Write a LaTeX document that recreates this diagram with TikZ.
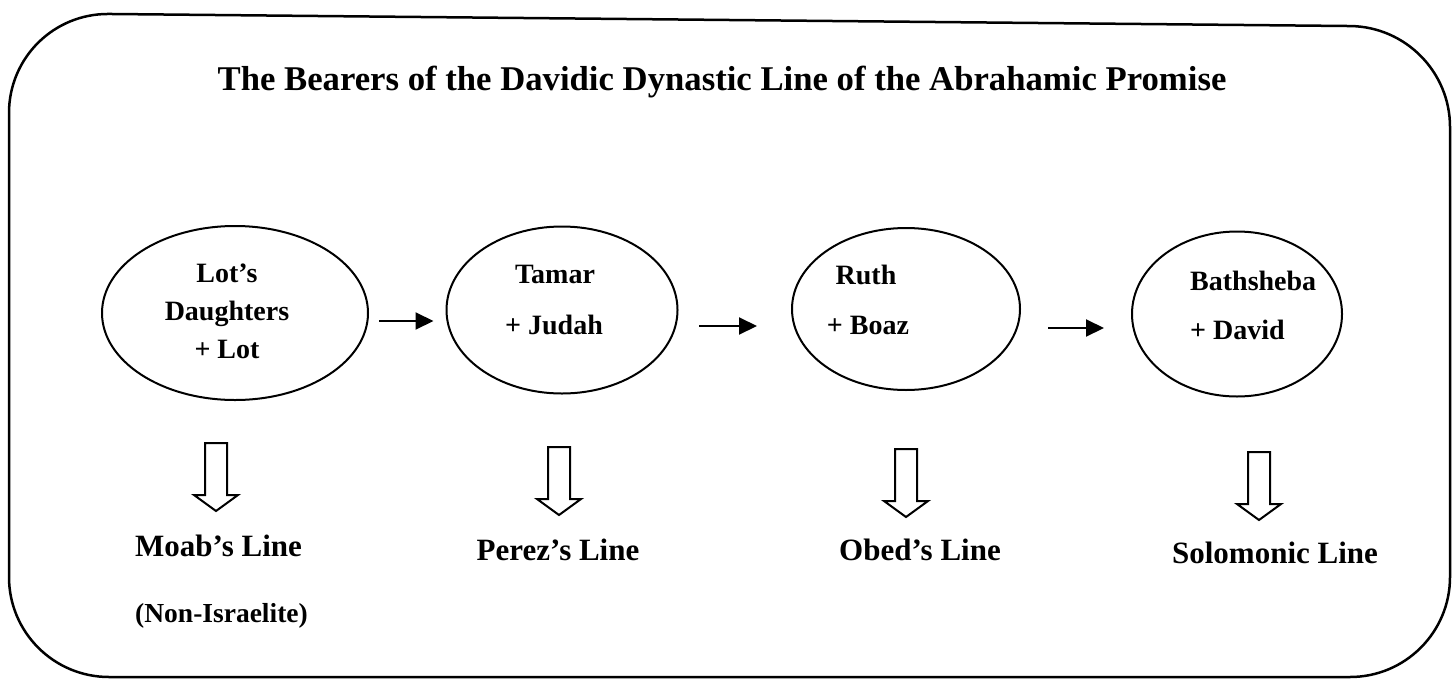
\documentclass[tikz,border=0pt]{standalone}
\usepackage{fontspec}
\setmainfont{Liberation Serif}
\usetikzlibrary{shapes.geometric,arrows.meta,calc}
\begin{document}
\begin{tikzpicture}[x=1pt,y=-1pt,
  oval/.style={draw,ellipse,line width=2pt,inner sep=0pt},
  intext/.style={font=\fontsize{28}{30}\selectfont\bfseries,anchor=base,inner sep=0pt},
  outtext/.style={font=\fontsize{31}{33}\selectfont\bfseries,anchor=base,inner sep=0pt},
  conn/.style={line width=2pt,-{Triangle[length=18pt,width=17pt]}},
  downarrow/.pic={\draw[line width=2pt,line join=miter] (-11,0) -- (11,0) -- (11,52) -- (22,52) -- (0,68) -- (-22,52) -- (-11,52) -- cycle;}
]
\useasboundingbox (0,0) rectangle (1455,680);
% frame
\draw[line width=2.5pt,rounded corners=100pt] (700,677) -- (9,677) -- (9,13) -- (1450,27) -- (1450,677) -- cycle;
% title
\node[font=\fontsize{34.7}{36}\selectfont\bfseries,anchor=base,inner sep=0pt] (title) at (722,90)
  {The Bearers of the Davidic Dynastic Line of the Abrahamic Promise};
% ellipses
\node[oval,minimum width=266pt,minimum height=174pt] (e1) at (235,313) {};
\node[oval,minimum width=231pt,minimum height=167pt] (e2) at (562,310) {};
\node[oval,minimum width=228pt,minimum height=162pt] (e3) at (906,309) {};
\node[oval,minimum width=210pt,minimum height=165pt] (e4) at (1237,314) {};
% ellipse texts
\node[intext] (t1a) at (227,282) {Lot’s};
\node[intext] (t1b) at (227,320) {Daughters};
\node[intext] (t1c) at (227,358) {+ Lot};
\node[intext] (t2a) at (555,283) {Tamar};
\node[intext] (t2b) at (554,334) {+ Judah};
\node[intext] (t3a) at (866,284) {Ruth};
\node[intext] (t3b) at (868,334) {+ Boaz};
\node[intext,anchor=base west] (t4a) at (1190,290) {Bathsheba};
\node[intext,anchor=base west] (t4b) at (1190,339) {+ David};
% horizontal arrows
\draw[conn] ([shift={(10,8)}]e1.east) -- ([shift={(-12,11)}]e2.west);
\draw[conn] ([shift={(20.5,16)}]e2.east) -- ([shift={(-34,17)}]e3.west);
\draw[conn] ([shift={(27,19)}]e3.east) -- ([shift={(-27,14)}]e4.west);
% hollow down arrows
\pic at (216,443) {downarrow};
\pic at (559,447) {downarrow};
\pic at (906,449) {downarrow};
\pic at (1259,452) {downarrow};
% bottom labels
\node[outtext,anchor=base west] (l1) at (135,556) {Moab’s Line};
\node[font=\fontsize{27.5}{30}\selectfont\bfseries,anchor=base west,inner sep=0pt] (l1b) at (135,622) {(Non-Israelite)};
\node[outtext] (l2) at (558,560) {Perez’s Line};
\node[outtext] (l3) at (920,560) {Obed’s Line};
\node[outtext] (l4) at (1275,563) {Solomonic Line};
\end{tikzpicture}
\end{document}
